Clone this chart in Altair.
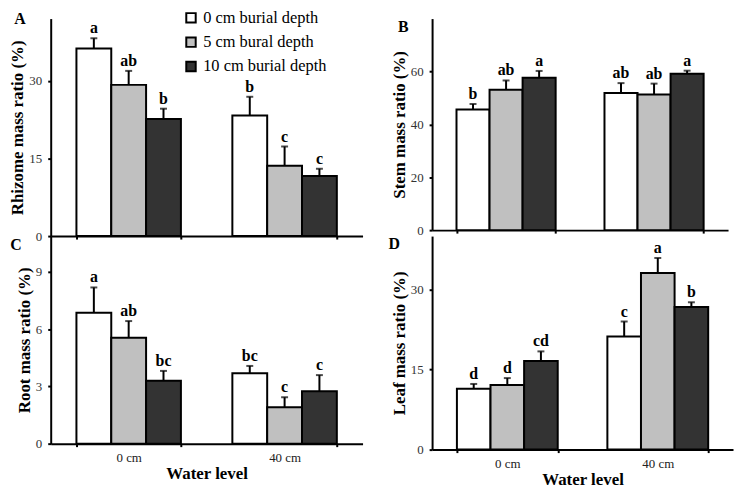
import altair as alt
import pandas as pd

FONT = "Liberation Serif"

water = ["0 cm", "40 cm"]
depths = ["0 cm burial depth", "5 cm bural depth", "10 cm burial depth"]
colors = ["#ffffff", "#c0c0c0", "#333333"]

rhizome_mean = [36.2, 29.2, 22.6, 23.3, 13.6, 11.6]
rhizome_se = [2.0, 2.7, 2.0, 3.6, 3.7, 1.4]
rhizome_sig = ["a", "ab", "b", "b", "c", "c"]

stem_mean = [45.6, 53.1, 57.6, 51.9, 51.3, 59.1]
stem_se = [2.1, 3.5, 2.6, 3.7, 4.1, 1.2]
stem_sig = ["b", "ab", "a", "ab", "ab", "a"]

root_mean = [6.85, 5.55, 3.29, 3.69, 1.91, 2.74]
root_se = [1.33, 0.87, 0.52, 0.38, 0.52, 0.85]
root_sig = ["a", "ab", "bc", "bc", "c", "c"]

leaf_mean = [11.4, 12.1, 16.6, 21.2, 33.1, 26.7]
leaf_se = [0.9, 1.3, 1.8, 2.8, 2.8, 0.9]
leaf_sig = ["d", "d", "cd", "c", "a", "b"]


def panel(mean, se, sig, ytitle, ymax, yticks, letter, lpos, width, height,
          bottom_row, legend):
    df = pd.DataFrame({
        "water": [w for w in water for _ in depths],
        "depth": depths * len(water),
        "mean": mean,
        "top": [m + s for m, s in zip(mean, se)],
        "sig": sig,
    })
    xaxis_kw = dict(
        labels=bottom_row, labelAngle=0, labelFont=FONT, labelFontSize=13,
        labelColor="#222222", labelPadding=5,
        titleFont=FONT, titleFontSize=17, titleFontWeight="bold",
        titleColor="black", titlePadding=1,
        domainColor="black", domainWidth=2, tickColor="black", tickWidth=2,
        tickSize=3, tickBand="extent", grid=False,
    )
    xaxis_kw["title"] = "Water level" if bottom_row else None
    xaxis = alt.Axis(**xaxis_kw)
    yaxis = alt.Axis(
        values=yticks, title=ytitle, labelFont=FONT, labelFontSize=13,
        labelColor="#333333", labelPadding=6,
        titleFont=FONT, titleFontSize=17, titleFontWeight="bold",
        titleColor="black", titlePadding=2, titleLimit=300,
        domainColor="black", domainWidth=2, tickColor="black", tickWidth=2,
        tickSize=3, grid=False,
    )
    xscale = alt.Scale(paddingInner=0.33, paddingOuter=0.165)
    yscale = alt.Scale(domain=[0, ymax], nice=False, zero=True)

    def X():
        return alt.X("water:N", sort=water, scale=xscale, axis=xaxis)

    def XO():
        return alt.XOffset("depth:N", sort=depths,
                           scale=alt.Scale(paddingInner=0, paddingOuter=0))

    def Y(field):
        return alt.Y(field, scale=yscale, axis=yaxis)

    if legend:
        leg = alt.Legend(
            orient="none", legendX=133, legendY=-9, title=None,
            symbolType="square", symbolSize=90, symbolStrokeColor="black",
            symbolStrokeWidth=2, labelFont=FONT, labelFontSize=16.5,
            labelColor="black", rowPadding=6.5, labelOffset=4,
        )
        color = alt.Color("depth:N", sort=depths,
                          scale=alt.Scale(domain=depths, range=colors), legend=leg)
    else:
        color = alt.Color("depth:N", sort=depths,
                          scale=alt.Scale(domain=depths, range=colors), legend=None)

    base = alt.Chart(df)
    bars = base.mark_bar(stroke="black", strokeWidth=2).encode(
        x=X(), xOffset=XO(), y=Y("mean:Q"), color=color)
    err = base.mark_rule(color="black", strokeWidth=2).encode(
        x=X(), xOffset=XO(), y=Y("mean:Q"), y2="top:Q")
    cap = base.mark_tick(color="black", thickness=2, size=7).encode(
        x=X(), xOffset=XO(), y=Y("top:Q"))
    txt = base.mark_text(font=FONT, fontWeight="bold", fontSize=16,
                         baseline="bottom", dy=-2, color="black").encode(
        x=X(), xOffset=XO(), y=Y("top:Q"), text="sig:N")
    lab = alt.Chart(pd.DataFrame({"t": [letter]})).mark_text(
        font=FONT, fontWeight="bold", fontSize=16, color="black",
        align="center", baseline="middle").encode(
        x=alt.value(lpos[0]), y=alt.value(lpos[1]), text="t:N")
    return alt.layer(bars, err, cap, txt, lab).properties(width=width, height=height)


pA = panel(rhizome_mean, rhizome_se, rhizome_sig, "Rhizome mass ratio (%)",
           42, [0, 15, 30], "A", (-31, 0), 314, 219, False, True)
pB = panel(stem_mean, stem_se, stem_sig, "Stem mass ratio (%)",
           80, [0, 20, 40, 60], "B", (-29, 9), 298, 213, False, False)
pC = panel(root_mean, root_se, root_sig, "Root mass ratio (%)",
           10.87, [0, 3, 6, 9], "C", (-35, 9), 314, 209, True, False)
pD = panel(leaf_mean, leaf_se, leaf_sig, "Leaf mass ratio (%)",
           40, [0, 15, 30], "D", (-38, 8), 303, 215, True, False)

chart = alt.concat(
    pA, pB, pC, pD, columns=2, spacing={"row": 0, "column": 70},
    bounds="flush", align="none",
).resolve_scale(
    x="independent", y="independent", xOffset="independent"
).resolve_legend(color="independent").properties(
    padding={"left": 1, "top": 0, "right": 2, "bottom": 0}
).configure_view(stroke=None)

chart.save("out.html", embed_options={"renderer": "svg", "actions": False})
